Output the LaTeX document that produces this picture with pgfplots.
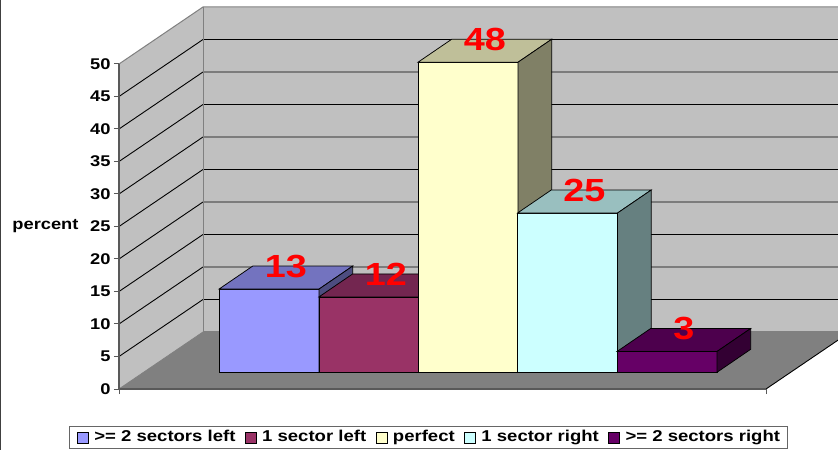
\documentclass[border=0pt]{standalone}
\usepackage{fontspec}
\setmainfont{Liberation Sans}[FakeStretch=1.18]
\usepackage{pgfplots}
\pgfplotsset{compat=1.18}
\definecolor{wall}{HTML}{C0C0C0}
\definecolor{floorc}{HTML}{808080}
\definecolor{aF}{HTML}{9999FF}\definecolor{aT}{HTML}{7373BF}\definecolor{aS}{HTML}{4D4D80}
\definecolor{bF}{HTML}{993366}\definecolor{bT}{HTML}{732650}\definecolor{bS}{HTML}{4D1A33}
\definecolor{cF}{HTML}{FFFFCC}\definecolor{cT}{HTML}{BFBF99}\definecolor{cS}{HTML}{808066}
\definecolor{dF}{HTML}{CCFFFF}\definecolor{dT}{HTML}{99BFBF}\definecolor{dS}{HTML}{668080}
\definecolor{eF}{HTML}{660066}\definecolor{eT}{HTML}{4D004D}\definecolor{eS}{HTML}{330033}
\newcommand\mf{\fontsize{15.5bp}{18bp}\selectfont\bfseries}
\newcommand\lf{\fontsize{15.7bp}{18bp}\selectfont\bfseries}
\tikzset{labelstyle/.style={text=red, font=\fontsize{32bp}{36bp}\selectfont\bfseries, inner sep=0pt}}
\def\yf{2.57}\def\dxb{33.7}\def\dyb{3.54}
% #1 left x of front face, #2 value, #3 front, #4 top, #5 side, #6 label
\newcommand\tdbar[6]{%
  \pgfmathsetmacro\xa{#1}%
  \pgfmathsetmacro\xb{#1+100}%
  \pgfmathsetmacro\xc{#1+\dxb}%
  \pgfmathsetmacro\xd{#1+100+\dxb}%
  \pgfmathsetmacro\yb{\yf}%
  \pgfmathsetmacro\yt{\yf+#2}%
  \pgfmathsetmacro\ybb{\yf+\dyb}%
  \pgfmathsetmacro\ytt{\yf+#2+\dyb}%
  \pgfmathsetmacro\xl{#1+50+\dxb/2}%
  \edef\tmp{%
    \noexpand\addplot[forget plot,fill=#3,draw=black,line width=0.75bp] coordinates {(\xa,\yb) (\xb,\yb) (\xb,\yt) (\xa,\yt)} -- cycle;
    \noexpand\addplot[forget plot,fill=#4,draw=black,line width=0.75bp] coordinates {(\xa,\yt) (\xb,\yt) (\xd,\ytt) (\xc,\ytt)} -- cycle;
    \noexpand\addplot[forget plot,fill=#5,draw=black,line width=0.75bp] coordinates {(\xb,\yb) (\xd,\ybb) (\xd,\ytt) (\xb,\yt)} -- cycle;
    \noexpand\node[labelstyle] at (axis cs:\xl,\ytt) {#6};
  }\tmp
}
\begin{document}
\begin{tikzpicture}
\useasboundingbox (0,0) rectangle (838bp,450bp);
\clip (0,0) rectangle (838bp,450bp);
\fill[white] (0,0) rectangle (838bp,450bp);
\draw[black!75,line width=1.2bp] (0.6bp,0) -- (0.6bp,450bp);
\begin{axis}[
  at={(119bp,61bp)}, anchor=south west,
  width=647bp, height=325bp, scale only axis,
  xmin=119, xmax=766, ymin=0, ymax=50, clip=false,
  axis on top,
  axis x line*=bottom, axis y line*=left,
  axis line style={black!65, line width=1.5bp},
  xtick={119,766}, xticklabels={},
  ytick={0,5,...,50},
  tick align=outside, major tick length=5bp,
  tick style={black!65, line width=1bp},
  /pgf/number format/assume math mode=true,
  yticklabel style={font=\mf},
  ylabel={percent},
  every axis y label/.style={at={(axis description cs:0,0.5)}, anchor=east, xshift=-37bp, font=\mf},
  legend columns=5,
  legend style={at={(0.4785,-0.1138)}, anchor=north, draw=black!60, line width=1bp, font=\lf,
    inner xsep=7.5bp, inner ysep=4bp,
    nodes={inner sep=0pt, text height=11.5bp, text depth=3bp},
    /tikz/every odd column/.append style={column sep=5.5bp},
    /tikz/every even column/.append style={column sep=9.5bp}},
  legend image code/.code={\draw[#1, draw=black, line width=0.75bp] (0bp,-5.5bp) rectangle (11bp,5.5bp);},
]
% walls and floor
\fill[wall] (119,0) -- (203,8.77) -- (203,58.77) -- (119,50) -- cycle;
\fill[wall] (203,8.77) rectangle (900,58.77);
\fill[floorc] (119,0) -- (766,0) -- (850,8.77) -- (203,8.77) -- cycle;
\pgfplotsinvokeforeach{5,10,...,45}{%
  \draw[black, line width=0.9bp] ({119},{#1}) -- ({203},{#1+8.77}) -- ({900},{#1+8.77});
}
\draw[black!50, line width=1bp] (119,50) -- (203,58.77) -- (900,58.77);
\draw[black!50, line width=1bp] (203,58.77) -- (203,8.77) -- (900,8.77);
\draw[black!50, line width=0.8bp] (119,0) -- (203,8.77);
\draw[black, line width=0.9bp] (766,0) -- (850,8.77);
% bars
\tdbar{219}{12.8}{aF}{aT}{aS}{13}
\tdbar{319}{11.6}{bF}{bT}{bS}{12}
\tdbar{418}{47.7}{cF}{cT}{cS}{48}
\tdbar{517.5}{24.5}{dF}{dT}{dS}{25}
\tdbar{617}{3.2}{eF}{eT}{eS}{3}
\addlegendimage{fill=aF}\addlegendentry{>= 2 sectors left}
\addlegendimage{fill=bF}\addlegendentry{1 sector left}
\addlegendimage{fill=cF}\addlegendentry{perfect}
\addlegendimage{fill=dF}\addlegendentry{1 sector right}
\addlegendimage{fill=eF}\addlegendentry{>= 2 sectors right}
\end{axis}
\end{tikzpicture}
\end{document}
